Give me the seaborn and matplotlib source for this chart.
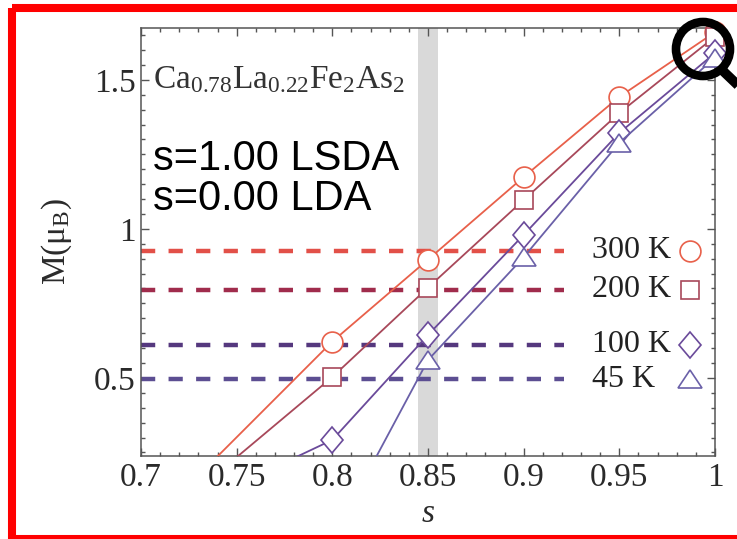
import numpy as np
import pandas as pd
import matplotlib
matplotlib.use("Agg")
import matplotlib.pyplot as plt
from matplotlib.markers import MarkerStyle
from matplotlib.transforms import Affine2D, Bbox, TransformedBbox
from matplotlib.patches import Rectangle, Circle
from matplotlib.lines import Line2D
import seaborn as sns

# ---- data -------------------------------------------------------------
temps = ["300 K", "200 K", "100 K", "45 K"]

s_300 = [0.70, 0.80, 0.85, 0.90, 0.95, 1.00]
m_300 = [-0.02, 0.622, 0.897, 1.174, 1.443, 1.660]

s_200 = [0.70, 0.80, 0.85, 0.90, 0.95, 1.00]
m_200 = [-0.035, 0.503, 0.803, 1.097, 1.389, 1.645]

s_100 = [0.75, 0.80, 0.85, 0.90, 0.95, 1.00]
m_100 = [0.14, 0.292, 0.644, 0.980, 1.322, 1.590]

s_45 = [0.80, 0.85, 0.90, 0.95, 1.00]
m_45 = [-0.04, 0.560, 0.905, 1.289, 1.575]

# experimental moments (dashed reference levels)
m_exp = [0.926, 0.795, 0.612, 0.495]

x_ticks = [0.7, 0.75, 0.8, 0.85, 0.9, 0.95, 1.0]
x_ticklabels = ["0.7", "0.75", "0.8", "0.85", "0.9", "0.95", "1"]
y_ticks = [0.5, 1.0, 1.5]
y_ticklabels = ["0.5", "1", "1.5"]

s_best = 0.85

# ---- style ------------------------------------------------------------
sns.set_theme(style="ticks")
plt.rcParams["font.family"] = ["Liberation Serif", "DejaVu Serif"]
plt.rcParams["mathtext.fontset"] = "custom"
plt.rcParams["mathtext.rm"] = "Liberation Serif"
plt.rcParams["mathtext.it"] = "Liberation Serif:italic"

line_colors = ["#e8604a", "#a8485a", "#6a4a9a", "#6a60a8"]
dash_colors = ["#e25048", "#a02c4c", "#55387e", "#5c4e92"]

diamond = MarkerStyle("D", transform=Affine2D().scale(0.8, 1.0))
triangle = MarkerStyle("^", transform=Affine2D().scale(1.0, 0.78))
markers = ["o", "s", diamond, triangle]
msizes = [15, 13, 13.5, 17]

W, H = 737, 539
fig = plt.figure(figsize=(W / 100, H / 100), dpi=100)
fig.patch.set_facecolor("white")
ax = fig.add_axes([141 / W, 1 - 456 / H, (715 - 141) / W, (456 - 28) / H])
ax.set_facecolor("white")

# highlighted s value
ax.axvspan(s_best - 0.0052, s_best + 0.0052, color="#d9d9d9", lw=0, zorder=0)

# dashed experimental levels
for lvl, c in zip(m_exp, dash_colors):
    ax.hlines(lvl, 0, 0.737, transform=ax.get_yaxis_transform(),
              colors=c, lw=3.2, linestyles=(0, (3.2, 3.0)), zorder=1)

# clip region that lets the end markers at s = 1 overhang the frame
wide_clip = TransformedBbox(Bbox([[0.0, 0.0], [1.05, 1.06]]), ax.transAxes)

series = [(s_300, m_300), (s_200, m_200), (s_100, m_100), (s_45, m_45)]
for (sx, my), c, mk, ms in zip(series, line_colors, markers, msizes):
    n_before = len(ax.lines)
    sns.lineplot(x=sx, y=my, ax=ax, color=c, lw=1.3, marker=mk,
                 markersize=ms, markerfacecolor="white", markeredgecolor=c,
                 markeredgewidth=1.2, zorder=3)
    for ln in ax.lines[n_before:]:
        ln.set_clip_box(wide_clip)

# key on the right: label + marker next to each dashed level
for lvl, t, c, mk, ms in zip(m_exp, temps, line_colors, markers, msizes):
    ax.text(0.786, lvl, t, transform=ax.get_yaxis_transform(),
            ha="left", va="center", fontsize=23, color="#222222")
    ax.add_line(Line2D([0.957], [lvl], transform=ax.get_yaxis_transform(),
                       marker=mk, markersize=ms, markerfacecolor="white",
                       markeredgecolor=c, markeredgewidth=1.2, ls="none"))

ax.set_xlim(0.7, 1.0)
ax.set_ylim(0.238, 1.674)
ax.set_xticks(x_ticks)
ax.set_xticklabels(x_ticklabels)
ax.set_yticks(y_ticks)
ax.set_yticklabels(y_ticklabels)
ax.set_xticks(np.arange(0.70, 1.0001, 0.01), minor=True)
ax.set_yticks(np.arange(0.25, 1.6501, 0.05), minor=True)

for sp in ax.spines.values():
    sp.set_color("#555555")
    sp.set_linewidth(1.1)
ax.tick_params(which="both", direction="in", top=True, right=True,
               color="#555555", width=1.0, labelsize=24, labelcolor="#2a2a2a")
ax.tick_params(which="major", length=6)
ax.tick_params(which="minor", length=3)
ax.tick_params(axis="x", pad=5)
ax.tick_params(axis="y", pad=4)

ax.set_xlabel("$\\it{s}$", fontsize=24, labelpad=4, color="#2a2a2a")
ax.set_ylabel("M(μ$_{\\mathrm{B}}$)", fontsize=24, labelpad=14, color="#2a2a2a")

# compound name and functional annotation
fig.text(153 / W, 1 - 88 / H, "Ca$_{0.78}$La$_{0.22}$Fe$_2$As$_2$",
         fontsize=24, color="#333333", va="baseline", ha="left")
fig.text(153 / W, 1 - 170 / H, "s=1.00 LSDA", fontsize=30,
         family="Liberation Sans", color="black", va="baseline", ha="left")
fig.text(153 / W, 1 - 210 / H, "s=0.00 LDA", fontsize=30,
         family="Liberation Sans", color="black", va="baseline", ha="left")

# overlay: red frame and magnifier glyph
ov = fig.add_axes([0, 0, 1, 1], zorder=10)
ov.set_xlim(0, W)
ov.set_ylim(H, 0)
ov.axis("off")
ov.patch.set_alpha(0)
ov.add_patch(Rectangle((12, 8), 745 - 12, 539 - 8, fill=False,
                       edgecolor="#ff0000", lw=5.8, clip_on=False))
ov.add_patch(Circle((703, 49), 27, fill=False, edgecolor="black", lw=6.2,
                    clip_on=False))
ov.add_line(Line2D([722, 745], [70, 92], color="black", lw=7,
                   solid_capstyle="butt"))

fig.savefig("out.png", dpi=100)
